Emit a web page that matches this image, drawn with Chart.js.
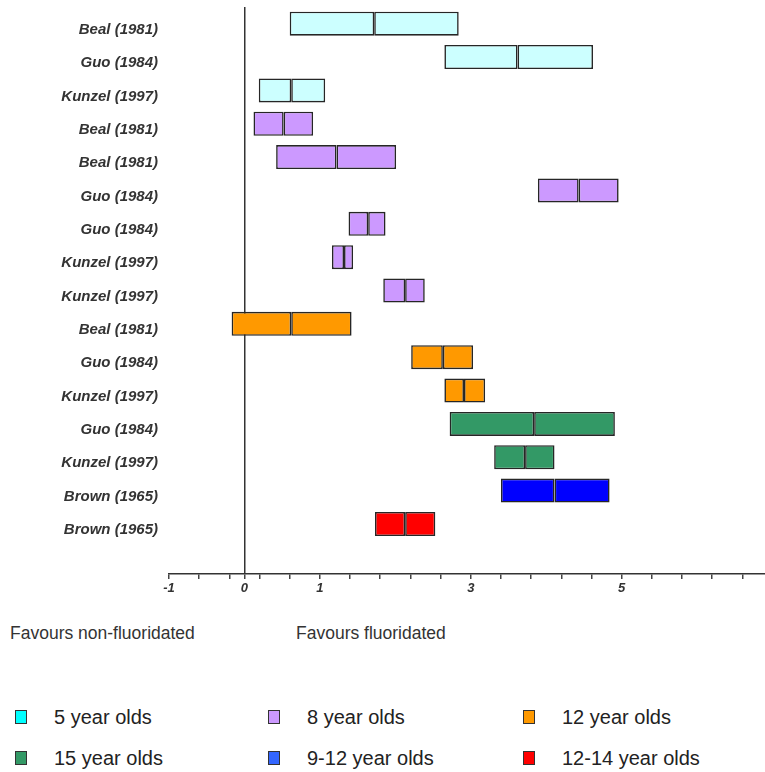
<!DOCTYPE html>
<html>
<head>
<meta charset="utf-8">
<script src="https://cdn.jsdelivr.net/npm/chart.js@4"></script>
<style>
	body { margin: 0; background: #fff; font-family: "Liberation Sans", Arial, sans-serif; }
	#wrap { position: relative; width: 765px; height: 772px; }
	#chart { position: absolute; left: 0; top: 0; }
	.note { position: absolute; top: 623px; font-size: 17.5px; color: #333; }
	.item { position: absolute; font-size: 20px; color: #222; line-height: 24px; }
	.item span.box { position: absolute; left: -39px; top: 5px; width: 10px; height: 12px; border: 1.5px solid #333; }
</style>
</head>
<body>
<div id="wrap">
	<canvas id="chart" width="765" height="605"></canvas>
	<div class="note" style="left:10px">Favours non-fluoridated</div>
	<div class="note" style="left:296px">Favours fluoridated</div>
	<div id="legend"></div>
</div>
<script>
const studies = ["Beal (1981)", "Guo (1984)", "Kunzel (1997)", "Beal (1981)", "Beal (1981)", "Guo (1984)",
	"Guo (1984)", "Kunzel (1997)", "Kunzel (1997)", "Beal (1981)", "Guo (1984)", "Kunzel (1997)",
	"Guo (1984)", "Kunzel (1997)", "Brown (1965)", "Brown (1965)"];
const ageGroup = [0, 0, 0, 1, 1, 1, 1, 1, 1, 2, 2, 2, 3, 3, 4, 5];
const lows = [0.60, 2.65, 0.19, 0.12, 0.42, 3.89, 1.38, 1.16, 1.84, -0.17, 2.21, 2.65, 2.72, 3.31, 3.40, 1.73];
const mids = [1.72, 3.62, 0.62, 0.52, 1.22, 4.43, 1.64, 1.32, 2.13, 0.62, 2.63, 2.91, 3.84, 3.72, 4.11, 2.13];
const highs = [2.84, 4.62, 1.07, 0.91, 2.01, 4.96, 1.87, 1.44, 2.39, 1.42, 3.03, 3.19, 4.91, 4.11, 4.84, 2.53];

const groupNames = ["5 year olds", "8 year olds", "12 year olds", "15 year olds", "9-12 year olds", "12-14 year olds"];
const barColors = ["#ccffff", "#cc99ff", "#ff9900", "#339966", "#0000ff", "#ff0000"];
const legendColors = ["#00ffff", "#cc99ff", "#ff9900", "#339966", "#3366ff", "#ff0000"];

const tickValues = [-1, -0.6, -0.2, 0, 0.2, 0.6, 1, 1.4, 1.8, 2.2, 2.6, 3, 3.4, 3.8, 4.2, 4.6, 5, 5.4, 5.8, 6.2, 6.6];
const tickLabels = [-1, 0, 1, 3, 5];

// one empty row under the last study leaves the gap above the axis
const labels = studies.concat([""]);
const fills = ageGroup.map(g => barColors[g]);

const halfBar = {
	backgroundColor: fills,
	borderColor: "#262626",
	borderWidth: 1.6,
	borderSkipped: false,
	grouped: false,
	barPercentage: 0.72,
	categoryPercentage: 1
};

new Chart(document.getElementById("chart"), {
	type: "bar",
	data: {
		labels: labels,
		datasets: [
			{ ...halfBar, data: lows.map((v, i) => [v, mids[i]]) },
			{ ...halfBar, data: mids.map((v, i) => [v, highs[i]]) }
		]
	},
	options: {
		indexAxis: "y",
		responsive: false,
		animation: false,
		layout: { padding: { top: 7, right: 0, left: 0, bottom: 0 } },
		plugins: {
			legend: { display: false },
			tooltip: { enabled: false }
		},
		scales: {
			x: {
				min: -1,
				max: 6.9,
				afterBuildTicks: scale => { scale.ticks = tickValues.map(v => ({ value: v })); },
				afterFit: scale => { scale.height = 31; },
				ticks: {
					autoSkip: false,
					maxRotation: 0,
					padding: 2,
					color: "#333",
					font: { family: "Liberation Sans", size: 13, style: "italic", weight: "bold" },
					callback: v => tickLabels.includes(v) ? String(v) : ""
				},
				grid: {
					color: ctx => ctx.tick && ctx.tick.value === 0 ? "#333" : "rgba(0,0,0,0)",
					lineWidth: 1.5,
					tickColor: "#444",
					tickLength: 5
				},
				border: { display: true, color: "#333", width: 1.5 }
			},
			y: {
				afterFit: scale => {
					scale.width = 169;
					scale.paddingTop = 0;
					scale.paddingBottom = 0;
				},
				ticks: {
					autoSkip: false,
					padding: 11,
					labelOffset: 6,
					color: "#333",
					font: { family: "Liberation Sans", size: 15, style: "italic", weight: "bold" }
				},
				grid: { display: false, drawTicks: false },
				border: { display: false }
			}
		}
	}
});

// legend in three columns, two rows
const legend = document.getElementById("legend");
const colX = [54, 307, 562];
const rowY = [705, 746];
groupNames.forEach((name, i) => {
	const el = document.createElement("div");
	el.className = "item";
	el.style.left = colX[i % 3] + "px";
	el.style.top = rowY[Math.floor(i / 3)] + "px";
	el.innerHTML = '<span class="box" style="background:' + legendColors[i] + '"></span>' + name;
	legend.appendChild(el);
});
</script>
</body>
</html>
